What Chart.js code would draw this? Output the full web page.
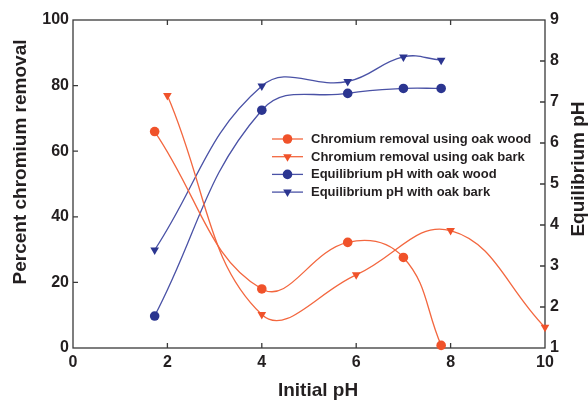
<!DOCTYPE html>
<html>
<head>
<meta charset="utf-8">
<script src="https://cdn.jsdelivr.net/npm/chart.js@4.4.1/dist/chart.umd.min.js"></script>
<style>
  html, body { margin: 0; padding: 0; background: #fff; }
  #wrap { width: 588px; height: 401px; }
</style>
</head>
<body>
<div id="wrap"><canvas id="chart"></canvas></div>
<script>
/* ── Data ──────────────────────────────────────────────────── */
const xOakWood = [1.73, 4, 5.82, 7, 7.8];
const xOakBark = [2, 4, 6, 8, 10];
const removalOakWood = [66, 18, 32.2, 27.6, 0.8];
const removalOakBark = [77, 10.2, 22.3, 35.8, 6.3];
const phOakWood = [1.78, 6.8, 7.21, 7.33, 7.33];
const phOakBark = [3.39, 7.39, 7.5, 8.1, 8.02];

const xTicks = [0, 2, 4, 6, 8, 10];
const removalTicks = [0, 20, 40, 60, 80, 100];
const phTicks = [1, 2, 3, 4, 5, 6, 7, 8, 9];

const legendLabels = [
    'Chromium removal using oak wood',
    'Chromium removal using oak bark',
    'Equilibrium pH with oak wood',
    'Equilibrium pH with oak bark'
];

/* ── Styles ────────────────────────────────────────────────── */
const RED_LINE = '#f3673f';
const RED_MARK = '#f0522a';
const BLUE_LINE = '#4a52a6';
const BLUE_MARK = '#2b3590';
const INK = '#231f20';
const FONT = "'Liberation Sans', Arial, sans-serif";

const toPoints = (xs, ys) => xs.map((x, i) => ({ x: x, y: ys[i] }));

function series(label, xs, ys, axis, line, mark, style) {
    return {
        label: label,
        data: toPoints(xs, ys),
        yAxisID: axis,
        borderColor: line,
        backgroundColor: mark,
        pointBackgroundColor: mark,
        pointBorderColor: mark,
        borderWidth: 1.3,
        pointStyle: style,
        pointRotation: style === 'triangle' ? 180 : 0,
        pointRadius: style === 'triangle' ? 5 : 4.8,
        pointBorderWidth: 0,
        tension: 0.42,
        clip: false
    };
}

const datasets = [
    series(legendLabels[0], xOakWood, removalOakWood, 'y',  RED_LINE,  RED_MARK,  'circle'),
    series(legendLabels[1], xOakBark, removalOakBark, 'y',  RED_LINE,  RED_MARK,  'triangle'),
    series(legendLabels[2], xOakWood, phOakWood,      'y1', BLUE_LINE, BLUE_MARK, 'circle'),
    series(legendLabels[3], xOakWood, phOakBark,      'y1', BLUE_LINE, BLUE_MARK, 'triangle')
];

/* ── Frame with inward ticks ───────────────────────────────── */
const framePlugin = {
    id: 'frame',
    beforeDatasetsDraw(chart) {
        const { ctx, chartArea: a, scales } = chart;
        const len = 5;
        ctx.save();
        ctx.strokeStyle = '#3a3a3a';
        ctx.lineWidth = 1.3;
        ctx.strokeRect(a.left, a.top, a.right - a.left, a.bottom - a.top);
        ctx.beginPath();
        xTicks.slice(1, -1).forEach(v => {
            const px = scales.x.getPixelForValue(v);
            ctx.moveTo(px, a.bottom); ctx.lineTo(px, a.bottom - len);
            ctx.moveTo(px, a.top);    ctx.lineTo(px, a.top + len);
        });
        removalTicks.slice(1, -1).forEach(v => {
            const py = scales.y.getPixelForValue(v);
            ctx.moveTo(a.left, py); ctx.lineTo(a.left + len, py);
        });
        phTicks.slice(1, -1).forEach(v => {
            const py = scales.y1.getPixelForValue(v);
            ctx.moveTo(a.right, py); ctx.lineTo(a.right - len, py);
        });
        ctx.stroke();
        ctx.restore();
    }
};

/* ── Axis titles and legend ────────────────────────────────── */
const decorPlugin = {
    id: 'decor',
    afterDraw(chart) {
        const { ctx } = chart;
        ctx.save();
        ctx.fillStyle = INK;
        ctx.font = 'bold 19px ' + FONT;
        ctx.textAlign = 'center';
        ctx.textBaseline = 'alphabetic';
        ctx.fillText('Initial pH', 318, 396);

        ctx.save();
        ctx.translate(26, 162);
        ctx.rotate(-Math.PI / 2);
        ctx.fillText('Percent chromium removal', 0, 0);
        ctx.restore();

        ctx.save();
        ctx.translate(584, 169);
        ctx.rotate(-Math.PI / 2);
        ctx.fillText('Equilibrium pH', 0, 0);
        ctx.restore();

        // legend
        const x0 = 272, x1 = 303, tx = 311;
        ctx.font = 'bold 13px ' + FONT;
        ctx.textAlign = 'left';
        ctx.textBaseline = 'middle';
        chart.data.datasets.forEach((ds, i) => {
            const y = 139 + i * 17.7;
            ctx.strokeStyle = ds.borderColor;
            ctx.lineWidth = 1.3;
            ctx.beginPath();
            ctx.moveTo(x0, y); ctx.lineTo(x1, y);
            ctx.stroke();
            ctx.fillStyle = ds.pointBackgroundColor;
            Chart.helpers.drawPoint(ctx, {
                pointStyle: ds.pointStyle,
                rotation: ds.pointRotation,
                radius: ds.pointRadius,
                borderWidth: 0
            }, (x0 + x1) / 2, y);
            ctx.fillStyle = INK;
            ctx.fillText(ds.label, tx, y + 0.5);
        });
        ctx.restore();
    }
};

const tickFont = { family: FONT, size: 16, weight: 'bold' };

new Chart(document.getElementById('chart'), {
    type: 'line',
    data: { datasets: datasets },
    options: {
        responsive: true,
        maintainAspectRatio: false,
        animation: false,
        layout: { padding: { top: 20, left: 0, right: 0, bottom: 0 } },
        plugins: { legend: { display: false }, tooltip: { enabled: false } },
        scales: {
            x: {
                type: 'linear',
                position: 'bottom',
                min: 0, max: 10,
                afterBuildTicks: s => { s.ticks = xTicks.map(v => ({ value: v })); },
                afterFit: s => { s.height = 53; },
                grid: { display: false, drawTicks: false },
                border: { display: false },
                ticks: { color: INK, font: tickFont, padding: 5, maxRotation: 0 }
            },
            y: {
                position: 'left',
                min: 0, max: 100,
                afterBuildTicks: s => { s.ticks = removalTicks.map(v => ({ value: v })); },
                afterFit: s => { s.width = 73; },
                grid: { display: false, drawTicks: false },
                border: { display: false },
                ticks: { color: INK, font: tickFont, padding: 4 }
            },
            y1: {
                position: 'right',
                min: 1, max: 9,
                afterBuildTicks: s => { s.ticks = phTicks.map(v => ({ value: v })); },
                afterFit: s => { s.width = 43; },
                grid: { display: false, drawTicks: false },
                border: { display: false },
                ticks: { color: INK, font: tickFont, padding: 5 }
            }
        }
    },
    plugins: [framePlugin, decorPlugin]
});
</script>
</body>
</html>
